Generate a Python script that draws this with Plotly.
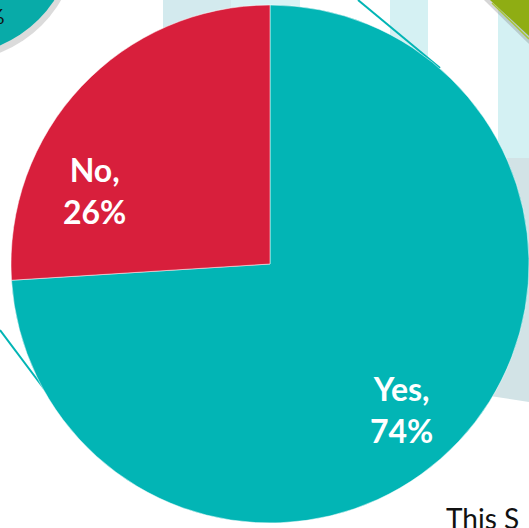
import plotly.graph_objects as go

# ---- data ----
labels = ["Yes", "No"]
values = [74, 26]
colors = ["#02B5B5", "#D81F3C"]

W, H = 529, 528

def px(x):
    return x / W

def py(y):
    return 1 - y / H

fig = go.Figure()

fig.add_trace(go.Pie(
    labels=labels,
    values=values,
    sort=False,
    direction="clockwise",
    rotation=0,
    marker=dict(colors=colors, line=dict(color="white", width=0.5)),
    textinfo="none",
    hoverinfo="label+percent",
    showlegend=False,
    domain=dict(x=[px(11), px(529)], y=[py(523), py(5)]),
))

shapes = []
# light cyan decorative bars (background)
shapes.append(dict(type="rect", xref="paper", yref="paper", x0=px(163), x1=px(231), y0=py(28), y1=py(0),
                   fillcolor="#D3EAEE", line=dict(width=0), layer="below"))
shapes.append(dict(type="rect", xref="paper", yref="paper", x0=px(231), x1=px(300), y0=py(10), y1=py(0),
                   fillcolor="#D8F3F5", line=dict(width=0), layer="below"))
shapes.append(dict(type="rect", xref="paper", yref="paper", x0=px(390), x1=px(428), y0=py(80), y1=py(0),
                   fillcolor="#D5F1F3", line=dict(width=0), layer="below"))
shapes.append(dict(type="rect", xref="paper", yref="paper", x0=px(498), x1=px(529), y0=py(160), y1=py(0),
                   fillcolor="#D4F1F3", line=dict(width=0), layer="below"))
shapes.append(dict(type="path", xref="paper", yref="paper",
                   path=f"M {px(490)},{py(158)} L {px(529)},{py(158)} L {px(529)},{py(402)} L {px(490)},{py(396)} Z",
                   fillcolor="#D2E3E6", line=dict(width=0), layer="below"))
# teal thin lines
shapes.append(dict(type="line", xref="paper", yref="paper", x0=px(358), y0=py(0), x1=px(440), y1=py(68),
                   line=dict(color="#02B5B5", width=2), layer="below"))
shapes.append(dict(type="line", xref="paper", yref="paper", x0=px(0), y0=py(330), x1=px(60), y1=py(410),
                   line=dict(color="#02B5B5", width=2), layer="below"))
# top-left teal circle with soft shadow
shapes.append(dict(type="circle", xref="paper", yref="paper", x0=px(-47 - 121 + 3), x1=px(-47 + 121 + 3),
                   y0=py(-66 - 121 + 6), y1=py(-66 + 121 + 6),
                   fillcolor="rgba(90,90,90,0.22)", line=dict(width=0), layer="below"))
shapes.append(dict(type="circle", xref="paper", yref="paper", x0=px(-47 - 121), x1=px(-47 + 121),
                   y0=py(-66 - 121), y1=py(-66 + 121),
                   fillcolor="#08ABA8", line=dict(width=0), layer="below"))
# top-right green shape with shadow
shapes.append(dict(type="path", xref="paper", yref="paper",
                   path=f"M {px(484)},{py(0)} L {px(529)},{py(0)} L {px(529)},{py(44)} Z",
                   fillcolor="rgba(120,120,120,0.3)", line=dict(width=0), layer="below"))
shapes.append(dict(type="path", xref="paper", yref="paper",
                   path=f"M {px(490)},{py(0)} L {px(529)},{py(0)} L {px(529)},{py(36)} Z",
                   fillcolor="#8FAD13", line=dict(width=0), layer="below"))
shapes.append(dict(type="line", xref="paper", yref="paper", x0=px(492), y0=py(3), x1=px(529), y1=py(39),
                   line=dict(color="#A9C536", width=1.5), layer="below"))

label_font = dict(family="Liberation Sans Narrow, Lato, Open Sans, sans-serif", size=32, color="white")
label_pos = {"Yes": (401, 409), "No": (94, 190)}
annotations = []
for lab, val in zip(labels, values):
    x, y = label_pos[lab]
    annotations.append(dict(x=px(x), y=py(y), xref="paper", yref="paper",
                            text=f"<b>{lab},<br>{val}%</b>", showarrow=False,
                            xanchor="center", yanchor="middle", align="center",
                            font=label_font))
annotations.append(dict(x=px(7), y=py(15), xref="paper", yref="paper", text="%", showarrow=False,
                        xanchor="right", yanchor="middle",
                        font=dict(family="Lato, sans-serif", size=22, color="#111111")))
annotations.append(dict(x=px(444), y=py(499), xref="paper", yref="paper", text="This S", showarrow=False,
                        xanchor="left", yanchor="top",
                        font=dict(family="Lato, Open Sans, sans-serif", size=28, color="#111111")))

fig.update_layout(
    width=W, height=H,
    margin=dict(l=0, r=0, t=0, b=0),
    paper_bgcolor="white",
    plot_bgcolor="white",
    shapes=shapes,
    annotations=annotations,
    showlegend=False,
)

fig.write_html("out.html", config={"displayModeBar": False},
               post_script="document.body.style.margin='0';document.body.style.overflow='hidden';")
